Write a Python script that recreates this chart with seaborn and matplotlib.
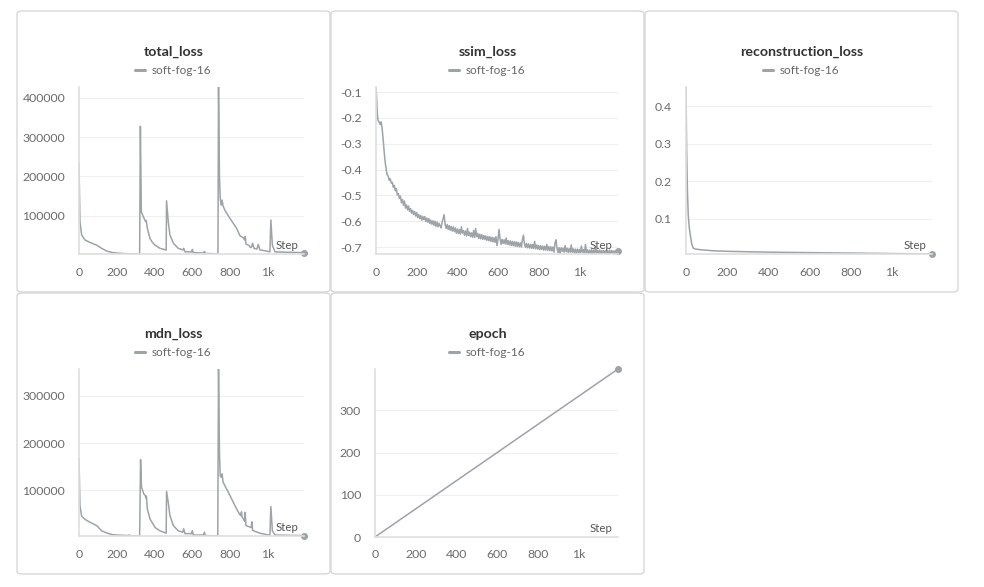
import matplotlib
matplotlib.use("Agg")
import matplotlib.pyplot as plt
from matplotlib.patches import FancyBboxPatch
import seaborn as sns
import pandas as pd

W, H = 984, 587
RUN = "soft-fog-16"
LINE = "#9ea3a8"

total_steps = [0, 5, 14, 32, 58, 94, 120, 147, 175, 200, 240, 271, 300, 322,
               326, 331, 342, 350, 354, 357, 363, 377, 390, 404, 430, 460, 463,
               465, 474, 483, 501, 527, 551, 556, 563, 598, 602, 607, 660, 666,
               671, 700, 731, 738, 741, 746, 750, 755, 760, 765, 775, 802, 837,
               855, 865, 873, 880, 883, 887, 904, 908, 915, 922, 929, 945, 952,
               961, 996, 1014, 1019, 1027, 1041, 1103, 1150, 1195]
total_values = [235000, 85000, 51000, 38000, 32000, 25000, 17000, 10000, 6500,
                5000, 3500, 3000, 2600, 2500, 328000, 110000, 97000, 89000,
                85000, 88000, 68000, 42000, 32000, 25000, 17000, 13000, 12500,
                138000, 85000, 51000, 30000, 17000, 13000, 17000, 8000, 8000,
                14000, 6000, 5000, 9000, 4000, 3500, 3000, 4000, 428000,
                200000, 144000, 127000, 140000, 125000, 114000, 93000, 68000,
                49000, 46000, 44000, 38000, 47000, 28000, 24000, 20000, 19000,
                30000, 17000, 15000, 27000, 13000, 10000, 8000, 89000, 25000,
                8000, 7000, 6500, 6000]

mdn_steps = [0, 5, 14, 32, 58, 94, 120, 147, 175, 200, 260, 268, 275, 322,
             327, 332, 344, 352, 355, 358, 363, 377, 404, 430, 460, 463, 465,
             474, 483, 501, 527, 551, 556, 563, 598, 602, 607, 660, 666, 671,
             731, 737, 741, 746, 750, 755, 760, 765, 775, 802, 837, 851, 858,
             863, 866, 873, 880, 882, 887, 900, 915, 918, 922, 940, 960, 995,
             1014, 1019, 1027, 1041, 1103, 1195]
mdn_values = [168000, 68000, 46000, 39000, 33000, 26000, 15000, 10500, 7000,
              6000, 5000, 6000, 4500, 4000, 165000, 107000, 93000, 89000,
              84000, 88000, 61000, 40000, 22000, 15000, 10500, 10000, 98000,
              75000, 47000, 26000, 15000, 12000, 19000, 9000, 9000, 15000,
              6000, 6000, 12000, 5000, 4000, 4000, 356000, 180000, 131000,
              128000, 135000, 118000, 110000, 89000, 61000, 51000, 47000,
              55000, 44000, 40000, 35000, 54000, 26000, 24000, 22000, 34000,
              16000, 13000, 10000, 7000, 5000, 66000, 15000, 6000, 5500, 5000]

ssim_steps = [0, 3, 6, 10, 15, 20, 25, 30, 35, 40, 45, 50, 55,
              60, 65, 70, 75, 80, 85, 90, 95, 100, 105, 110, 115, 120, 125,
              130, 135, 140, 145, 150, 155, 160, 165, 170, 175, 180, 185, 190,
              195, 200, 205, 210, 215, 220, 225, 230, 235, 240, 245, 250, 255,
              260, 265, 270, 275, 280, 285, 290, 295, 300, 305, 310, 315, 320,
              325, 330, 335, 340, 345, 350, 355, 360, 365, 370, 375, 380, 385,
              390, 395, 400, 405, 410, 415, 420, 425, 430, 435, 440, 445, 450,
              455, 460, 465, 470, 475, 480, 485, 490, 495, 500, 505, 510, 515,
              520, 525, 530, 535, 540, 545, 550, 555, 560, 565, 570, 575, 580,
              585, 590, 595, 600, 605, 610, 615, 620, 625, 630, 635, 640, 645,
              650, 655, 660, 665, 670, 675, 680, 685, 690, 695, 700, 705, 710,
              715, 720, 725, 730, 735, 740, 745, 750, 755, 760, 765, 770, 775,
              780, 785, 790, 795, 800, 805, 810, 815, 820, 825, 830, 835, 840,
              845, 850, 855, 860, 865, 870, 875, 880, 885, 890, 895, 900, 905,
              910, 915, 920, 925, 930, 935, 940, 945, 950, 955, 960, 965, 970,
              975, 980, 985, 990, 995, 1000, 1005, 1010, 1015, 1020, 1025, 1030,
              1035, 1040, 1045, 1050, 1055, 1060, 1065, 1070, 1075, 1080, 1085,
              1090, 1095, 1100, 1105, 1110, 1115, 1120, 1125, 1130, 1135, 1140,
              1145, 1150, 1155, 1160, 1165, 1170, 1175, 1180, 1185, 1190]
ssim_values = [-0.08, -0.12, -0.18, -0.21, -0.215, -0.225, -0.215, -0.24,
               -0.28, -0.33, -0.37, -0.40, -0.42,
               -0.425, -0.441, -0.436, -0.452, -0.449, -0.468, -0.461, -0.482,
               -0.474, -0.498, -0.493, -0.512, -0.503, -0.528, -0.516, -0.538,
               -0.522, -0.549, -0.537, -0.556, -0.541, -0.562, -0.551, -0.569,
               -0.558, -0.574, -0.563, -0.58, -0.566, -0.586, -0.574, -0.59,
               -0.578, -0.596, -0.581, -0.594, -0.582, -0.601, -0.588, -0.604,
               -0.59, -0.609, -0.596, -0.612, -0.598, -0.616, -0.6, -0.62,
               -0.603, -0.622, -0.608, -0.618, -0.626, -0.604, -0.59, -0.575,
               -0.612, -0.628, -0.613, -0.632, -0.617, -0.635, -0.62, -0.638,
               -0.622, -0.64, -0.626, -0.646, -0.63, -0.648, -0.632, -0.65,
               -0.622, -0.646, -0.636, -0.654, -0.638, -0.657, -0.628, -0.655,
               -0.642, -0.66, -0.645, -0.662, -0.636, -0.663, -0.628, -0.66,
               -0.647, -0.667, -0.65, -0.668, -0.652, -0.67, -0.655, -0.671,
               -0.657, -0.674, -0.659, -0.676, -0.66, -0.678, -0.662, -0.68,
               -0.664, -0.682, -0.66, -0.694, -0.67, -0.632, -0.668, -0.69,
               -0.67, -0.686, -0.672, -0.688, -0.665, -0.69, -0.675, -0.692,
               -0.676, -0.694, -0.678, -0.695, -0.679, -0.697, -0.68, -0.698,
               -0.682, -0.699, -0.684, -0.7, -0.672, -0.654, -0.688, -0.701,
               -0.686, -0.703, -0.688, -0.704, -0.69, -0.705, -0.69, -0.706,
               -0.678, -0.707, -0.692, -0.708, -0.694, -0.71, -0.695, -0.71,
               -0.696, -0.712, -0.697, -0.712, -0.69, -0.713, -0.698, -0.714,
               -0.699, -0.715, -0.7, -0.72, -0.685, -0.672, -0.705, -0.722,
               -0.702, -0.726, -0.703, -0.716, -0.704, -0.72, -0.694, -0.718,
               -0.705, -0.721, -0.706, -0.72, -0.692, -0.72, -0.707, -0.722,
               -0.708, -0.724, -0.708, -0.722, -0.709, -0.724, -0.696, -0.72,
               -0.71, -0.725, -0.69, -0.722, -0.711, -0.726, -0.712, -0.724,
               -0.71, -0.726, -0.712, -0.724, -0.7, -0.726, -0.713, -0.725,
               -0.712, -0.726, -0.714, -0.724, -0.713, -0.727, -0.714, -0.725,
               -0.715, -0.727, -0.712, -0.726, -0.714, -0.725, -0.715, -0.726,
               -0.714, -0.722, -0.716]

recon_steps = [0, 3, 7, 11, 16, 23, 29, 36, 44, 69, 134, 215, 297, 460, 624,
               787, 950, 1113, 1195]
recon_values = [0.452, 0.288, 0.172, 0.11, 0.075, 0.048, 0.03, 0.021, 0.019,
                0.017, 0.014, 0.0125, 0.0115, 0.010, 0.009, 0.008, 0.007,
                0.006, 0.0055]

epoch_steps = [0, 1195]
epoch_values = [0, 398]

x_ticks = [0, 200, 400, 600, 800, 1000]
x_labels = ["0", "200", "400", "600", "800", "1k"]

sns.set_style("white")
plt.rcParams["font.family"] = ["Lato", "DejaVu Sans"]

fig = plt.figure(figsize=(W / 100, H / 100), dpi=100)

# (title, steps, values, panel box px, axes box px, yticks, ytick labels)
panels = [
    ("total_loss", total_steps, total_values, (17, 11, 330, 292), (79, 87, 304, 254),
     [100000, 200000, 300000, 400000], ["100000", "200000", "300000", "400000"]),
    ("ssim_loss", ssim_steps, ssim_values, (331, 11, 644, 292), (376, 87, 618, 254),
     [-0.7, -0.6, -0.5, -0.4, -0.3, -0.2, -0.1],
     ["-0.7", "-0.6", "-0.5", "-0.4", "-0.3", "-0.2", "-0.1"]),
    ("reconstruction_loss", recon_steps, recon_values, (645, 11, 958, 292), (686, 87, 932, 254),
     [0.1, 0.2, 0.3, 0.4], ["0.1", "0.2", "0.3", "0.4"]),
    ("mdn_loss", mdn_steps, mdn_values, (17, 293, 330, 574), (79, 369, 304, 536),
     [100000, 200000, 300000], ["100000", "200000", "300000"]),
    ("epoch", epoch_steps, epoch_values, (331, 293, 644, 574), (375, 369, 618, 537),
     [0, 100, 200, 300], ["0", "100", "200", "300"]),
]

for title, steps, values, pbox, abox, yt, ytl in panels:
    x0, y0, x1, y1 = pbox
    card = FancyBboxPatch((x0 / W, 1 - y1 / H), (x1 - x0) / W, (y1 - y0) / H,
                          boxstyle="round,pad=0,rounding_size=0.005",
                          transform=fig.transFigure, facecolor="white",
                          edgecolor="#d4d4d4", linewidth=0.9, zorder=-5)
    fig.add_artist(card)

    l, t, r, b = abox
    ax = fig.add_axes([l / W, 1 - b / H, (r - l) / W, (b - t) / H])
    ax.set_facecolor("none")
    df = pd.DataFrame({"Step": steps, "value": values})
    sns.lineplot(data=df, x="Step", y="value", ax=ax, color=LINE, linewidth=1.1, label=RUN)
    ax.plot(steps[-1], values[-1], "o", color=LINE, markersize=4, clip_on=False)

    ax.set_xlim(0, steps[-1])
    ax.set_ylim(min(values), max(values))
    ax.set_xticks(x_ticks)
    ax.set_xticklabels(x_labels)
    ax.set_yticks(yt)
    ax.set_yticklabels(ytl)
    ax.set_xlabel("")
    ax.set_ylabel("")
    ax.grid(axis="y", color="#efefef", linewidth=0.8)
    for side in ["top", "right"]:
        ax.spines[side].set_visible(False)
    for side in ["left", "bottom"]:
        ax.spines[side].set_color("#dedede")
        ax.spines[side].set_linewidth(1.2)
    ax.tick_params(axis="x", direction="in", length=4, width=1, color="#dedede",
                   pad=9, labelsize=8.8, labelcolor="#6b6b6b")
    ax.tick_params(axis="y", length=0, pad=10, labelsize=8.8, labelcolor="#6b6b6b")

    ax.text(1 - 6 / (r - l), 3 / (b - t), "Step", transform=ax.transAxes,
            ha="right", va="bottom", fontsize=8.3, color="#555555")

    cx = (x0 + x1) / 2 / W
    fig.text(cx, 1 - (y0 + 41) / H, title, ha="center", va="center",
             fontsize=10.2, fontweight="bold", color="#333333")
    leg = ax.legend(loc="center", bbox_to_anchor=(cx, 1 - (y0 + 60) / H),
                    bbox_transform=fig.transFigure, frameon=False,
                    handlelength=0.8, handletextpad=0.6, fontsize=8.5,
                    labelcolor="#666666")
    for h in leg.legend_handles:
        h.set_linewidth(2.2)

fig.savefig("out.png", dpi=100)
